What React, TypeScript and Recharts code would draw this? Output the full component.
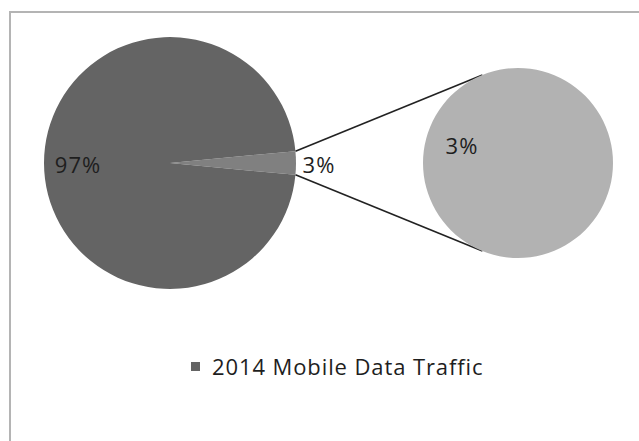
import { PieChart, Pie, Cell, Legend, Customized } from 'recharts'

const seriesName = '2014 Mobile Data Traffic'
const mainCategories = ['Other', 'Mobile']
const mainValues = [3, 97]
const splitCategories = ['Other']
const splitValues = [3]

const mainData = mainCategories.map((name, i) => ({ name, value: mainValues[i] }))
const splitData = splitCategories.map((name, i) => ({ name, value: splitValues[i] }))

const FONT = '"Open Sans", Lato, sans-serif'
const FS = 22
const mainColors = ['#808080', '#646464']
const splitColor = '#b2b2b2'

const MAIN = { cx: 170, cy: 163, r: 126 }
const SPLIT = { cx: 518, cy: 163, r: 95 }
const total = mainValues.reduce((a, b) => a + b, 0)
const half = (mainValues[0] / total) * 180 // half of the small wedge, degrees
const RAD = Math.PI / 180

const pct = (v: number) => `${Math.round((v / total) * 100)}%`

function mainLabel(p: any) {
  const { cx, cy, midAngle, outerRadius, index, value } = p
  const outside = index === 0
  const r = outside ? outerRadius + 23 : outerRadius * 0.73
  const x = cx + r * Math.cos(-midAngle * RAD)
  const y = cy + r * Math.sin(-midAngle * RAD)
  return (
    <text x={x} y={y + 1} textAnchor="middle" dominantBaseline="central" fill="#1e1e1e" fontSize={FS} letterSpacing={1} fontFamily={FONT}>
      {pct(value)}
    </text>
  )
}

function splitLabel(p: any) {
  const { cx, cy, value } = p
  return (
    <text x={cx - 56} y={cy - 18} textAnchor="middle" dominantBaseline="central" fill="#1e1e1e" fontSize={FS} letterSpacing={1} fontFamily={FONT}>
      {pct(value)}
    </text>
  )
}

function Connectors() {
  const sx = MAIN.cx + MAIN.r * Math.cos(half * RAD)
  const sy = MAIN.r * Math.sin(half * RAD)
  const ex = SPLIT.cx + SPLIT.r * Math.cos(112 * RAD)
  const ey = SPLIT.r * Math.sin(112 * RAD)
  return (
    <g stroke="#222" strokeWidth={1.6}>
      <line x1={sx} y1={MAIN.cy - sy} x2={ex} y2={SPLIT.cy - ey} />
      <line x1={sx} y1={MAIN.cy + sy} x2={ex} y2={SPLIT.cy + ey} />
    </g>
  )
}

function LegendContent() {
  return (
    <div style={{ display: 'flex', alignItems: 'center', justifyContent: 'flex-start', paddingLeft: 191, fontFamily: FONT, fontSize: FS, letterSpacing: 0.9, color: '#1e1e1e', lineHeight: '24px' }}>
      <span style={{ display: 'inline-block', width: 9, height: 9, background: mainColors[1], marginRight: 12 }} />
      {seriesName}
    </div>
  )
}

export default function App() {
  return (
    <div style={{ position: 'absolute', left: 0, top: 0, width: 639, height: 441, overflow: 'hidden', background: '#fff' }}>
      <div style={{ position: 'absolute', left: 9, top: 11, width: 700, height: 500, border: '2px solid #b4b4b4' }} />
      <div style={{ position: 'absolute', left: 0, top: 0 }}>
        <PieChart width={639} height={441} margin={{ top: 0, right: 0, bottom: 0, left: 0 }}>
          <Pie
            data={mainData}
            dataKey="value"
            cx={MAIN.cx}
            cy={MAIN.cy}
            outerRadius={MAIN.r}
            startAngle={-half}
            endAngle={360 - half}
            stroke="none"
            label={mainLabel}
            labelLine={false}
            isAnimationActive={false}
          >
            {mainData.map((d, i) => <Cell key={d.name} fill={mainColors[i]} />)}
          </Pie>
          <Pie
            data={splitData}
            dataKey="value"
            cx={SPLIT.cx}
            cy={SPLIT.cy}
            outerRadius={SPLIT.r}
            startAngle={90}
            endAngle={450}
            stroke="none"
            fill={splitColor}
            label={splitLabel}
            labelLine={false}
            isAnimationActive={false}
          />
          <Customized component={Connectors} />
          <Legend content={LegendContent} wrapperStyle={{ position: 'absolute', left: 0, width: 639, top: 354 }} />
        </PieChart>
      </div>
    </div>
  )
}
